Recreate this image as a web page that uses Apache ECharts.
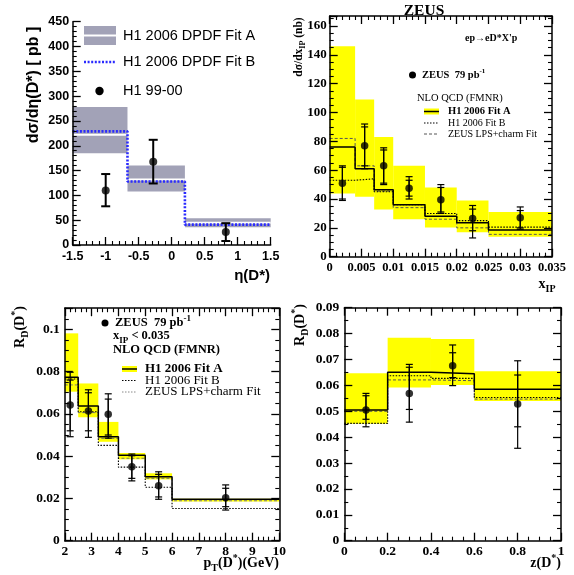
<!DOCTYPE html>
<html><head><meta charset="utf-8">
<script src="https://cdn.jsdelivr.net/npm/echarts@6/dist/echarts.min.js"></script>
<style>html,body{margin:0;padding:0;background:#fff}#c{width:574px;height:575px}</style>
</head><body><div id="c"></div>
<script>
// ---------- Panel 1: H1 dsigma/deta ----------
const etaEdges = [-1.5, -0.67, 0.2, 1.5];
const etaFitALo = [185, 108, 36];
const etaFitAHi = [278, 160, 54];
const etaFitAMid = [222, 132, 45];
const etaFitB = [229, 128, 41];
const etaX = [-1.0, -0.28, 0.82];
const etaY = [110, 168, 26];
const etaErrLo = [78, 124, 8];
const etaErrHi = [143, 212, 44];

// ---------- Panel 2: ZEUS dsigma/dxIP ----------
const xpEdges = [0, 0.004, 0.007, 0.01, 0.015, 0.02, 0.025, 0.035];
const xpBandLo = [43.9, 41.6, 32.8, 25.9, 20.3, 16.9, 13.9];
const xpBandHi = [146, 109, 83, 63, 48, 39, 31];
const xpFitA = [76, 61, 46.5, 36, 28, 23.5, 18.5];
const xpFitB = [53, 54, 45, 36, 30, 25, 20.5];
const xpZeus = [82, 63, 45.5, 34, 26, 20, 15.5];
const xpX = [0.002, 0.0055, 0.0085, 0.0125, 0.0175, 0.0225, 0.03];
const xpY = [51, 77, 63, 47.5, 39.5, 26.5, 27];
const xpStatLo = [40, 63, 51, 42, 31, 18, 20];
const xpStatHi = [62, 90, 74, 53, 48, 33, 32];
const xpTotLo = [39, 61, 50, 40, 30, 13, 19];
const xpTotHi = [63, 92, 75.5, 55.5, 50, 35.5, 34.5];

// ---------- Panel 3: R_D vs pT ----------
const ptEdges = [2, 2.5, 3.25, 4, 5, 6, 10];
const ptBandLo = [0.0705, 0.0584, 0.0468, 0.0385, 0.029, 0.0186];
const ptBandHi = [0.0981, 0.0744, 0.0562, 0.0415, 0.0319, 0.0198];
const ptFitA = [0.0773, 0.0637, 0.0492, 0.0404, 0.0303, 0.0196];
const ptFitB = [0.0765, 0.061, 0.0451, 0.0348, 0.0253, 0.0152];
const ptZeus = [0.0737, 0.0606, 0.0484, 0.039, 0.0295, 0.0189];
const ptX = [2.2, 2.88, 3.62, 4.5, 5.5, 8];
const ptY = [0.0642, 0.0614, 0.0598, 0.035, 0.026, 0.0203];
const ptStatLo = [0.052, 0.052, 0.050, 0.0295, 0.0207, 0.0161];
const ptStatHi = [0.076, 0.070, 0.067, 0.0402, 0.0314, 0.0248];
const ptTotLo = [0.0492, 0.0489, 0.0485, 0.0283, 0.0196, 0.0145];
const ptTotHi = [0.0797, 0.0714, 0.0695, 0.041, 0.0326, 0.0264];

// ---------- Panel 4: R_D vs z ----------
const zEdges = [0, 0.2, 0.4, 0.6, 1.0];
const zBandLo = [0.0452, 0.0592, 0.0601, 0.0540];
const zBandHi = [0.0647, 0.0784, 0.0779, 0.0655];
const zFitA = [0.0505, 0.0651, 0.0645, 0.0585];
const zFitB = [0.0453, 0.0637, 0.0627, 0.0553];
const zZeus = [0.0500, 0.0621, 0.0618, 0.0547];
const zX = [0.1, 0.3, 0.5, 0.8];
const zY = [0.0505, 0.0569, 0.0676, 0.0528];
const zStatLo = [0.0469, 0.0507, 0.0630, 0.0440];
const zStatHi = [0.0560, 0.0670, 0.0726, 0.0640];
const zTotLo = [0.0440, 0.0458, 0.0599, 0.0357];
const zTotHi = [0.0569, 0.0681, 0.0756, 0.0695];

const serif = '"Liberation Serif","Times New Roman",serif';
const sans = '"Liberation Sans",Arial,Helvetica,sans-serif';
const YEL = '#ffff00';
const GRAY = '#a2a2b7';

function steps(edges, vals) {
  const d = vals.map((v, i) => [edges[i], v]);
  d.push([edges[edges.length - 1], vals[vals.length - 1]]);
  return d;
}
function bins(edges, lo, hi, mid) {
  return lo.map((l, i) => mid ? [edges[i], edges[i + 1], l, hi[i], mid[i]] : [edges[i], edges[i + 1], l, hi[i]]);
}
function pts(x, y) { return x.map((v, i) => [v, y[i]]); }
function errs(x, lo, hi) { return x.map((v, i) => [v, lo[i], hi[i]]); }

function bandSeries(ai, data, color, midColor) {
  return {
    type: 'custom', xAxisIndex: ai[0], yAxisIndex: ai[1], data: data, silent: true, z: 1,
    encode: { x: [0, 1], y: [2, 3] },
    renderItem(params, api) {
      const x0 = api.value(0), x1 = api.value(1), lo = api.value(2), hi = api.value(3);
      const a = api.coord([x0, hi]), b = api.coord([x1, lo]);
      const ch = [{ type: 'rect', shape: { x: a[0], y: a[1], width: b[0] - a[0], height: b[1] - a[1] }, style: { fill: color } }];
      if (midColor) {
        const m = api.coord([x0, api.value(4)]);
        ch.push({ type: 'line', shape: { x1: a[0], y1: m[1], x2: b[0], y2: m[1] }, style: { stroke: midColor, lineWidth: 2 } });
      }
      return { type: 'group', children: ch };
    }
  };
}
function stepSeries(ai, data, color, width, type, z) {
  return {
    type: 'line', xAxisIndex: ai[0], yAxisIndex: ai[1], data: data, step: 'end', symbol: 'none',
    silent: true, z: z || 3, lineStyle: { color: color, width: width, type: type || 'solid' }
  };
}
function errSeries(ai, data, cap, width) {
  return {
    type: 'custom', xAxisIndex: ai[0], yAxisIndex: ai[1], data: data, silent: true, z: 4,
    encode: { x: 0, y: [1, 2] },
    renderItem(params, api) {
      const x = api.value(0);
      const a = api.coord([x, api.value(2)]), b = api.coord([x, api.value(1)]);
      const st = { stroke: '#000', lineWidth: width };
      return {
        type: 'group', children: [
          { type: 'line', shape: { x1: a[0], y1: a[1], x2: b[0], y2: b[1] }, style: st },
          { type: 'line', shape: { x1: a[0] - cap, y1: a[1], x2: a[0] + cap, y2: a[1] }, style: st },
          { type: 'line', shape: { x1: b[0] - cap, y1: b[1], x2: b[0] + cap, y2: b[1] }, style: st }
        ]
      };
    }
  };
}
function dotSeries(ai, data, size) {
  return { type: 'scatter', xAxisIndex: ai[0], yAxisIndex: ai[1], data: data, symbolSize: size, silent: true, z: 5, itemStyle: { color: '#000' } };
}

function axis(grid, pos, min, max, interval, minorSplit, labels, font, fsize, margin, extra) {
  const ax = {
    type: 'value', gridIndex: grid, position: pos, min: min, max: max, interval: interval, z: 8,
    splitLine: { show: false },
    axisLine: { show: true, onZero: false, lineStyle: { color: '#000', width: 1.5 } },
    axisTick: { show: true, inside: true, length: 8, lineStyle: { color: '#000', width: 1.3 } },
    minorTick: { show: true, splitNumber: minorSplit, length: 4, lineStyle: { color: '#000', width: 1.1 } },
    axisLabel: { show: labels, inside: false, color: '#000', fontFamily: font, fontWeight: 'bold', fontSize: fsize, margin: margin }
  };
  if (extra) Object.assign(ax.axisLabel, extra);
  return ax;
}

function rich(f, fam, w) {
  return {
    a: { fontSize: f, lineHeight: Math.round(f * 1.4), fontFamily: fam, fontWeight: w, color: '#000' },
    s: { fontSize: Math.round(f * 0.7), lineHeight: Math.round(f * 0.7), verticalAlign: 'bottom', fontFamily: fam, fontWeight: w, color: '#000' },
    p: { fontSize: Math.round(f * 0.7), lineHeight: Math.round(f * 0.7), verticalAlign: 'top', fontFamily: fam, fontWeight: w, color: '#000' }
  };
}
function txt(x, y, text, f, fam, w, align, rot) {
  const el = {
    type: 'text', x: x, y: y, silent: true, z: 100,
    style: { text: text, rich: rich(f, fam, w), fontSize: f, fontFamily: fam, fontWeight: w, fill: '#000', align: align || 'left', verticalAlign: 'middle' }
  };
  if (rot) el.rotation = rot;
  return el;
}
function hline(x1, x2, y, color, width, dash) {
  return { type: 'line', z: 100, silent: true, shape: { x1: x1, y1: y, x2: x2, y2: y }, style: { stroke: color, lineWidth: width, lineDash: dash || null } };
}
function box(x, y, w, h, color) {
  return { type: 'rect', z: 99, silent: true, shape: { x: x, y: y, width: w, height: h }, style: { fill: color } };
}
function dot(x, y, r) {
  return { type: 'circle', z: 100, silent: true, shape: { cx: x, cy: y, r: r }, style: { fill: '#000' } };
}

const grids = [
  { left: 72.7, top: 21.7, width: 198, height: 223.3 },
  { left: 329.7, top: 16, width: 222.3, height: 240.7 },
  { left: 64.8, top: 308.2, width: 214.5, height: 232.5 },
  { left: 344.3, top: 307.7, width: 216.7, height: 233 }
];

const xAxes = [
  axis(0, 'bottom', -1.5, 1.5, 0.5, 5, true, sans, 12.5, 5),
  axis(1, 'bottom', 0, 0.035, 0.005, 5, true, serif, 12.5, 5),
  axis(1, 'top', 0, 0.035, 0.005, 5, false, serif, 12, 4),
  axis(2, 'bottom', 2, 10, 1, 5, true, serif, 13.5, 4),
  axis(2, 'top', 2, 10, 1, 5, false, serif, 12, 4),
  axis(3, 'bottom', 0, 1, 0.2, 4, true, serif, 13.5, 4),
  axis(3, 'top', 0, 1, 0.2, 4, false, serif, 12, 4)
];
const yAxes = [
  axis(0, 'left', 0, 450, 50, 5, true, sans, 12.5, 3.5),
  axis(1, 'left', 0, 166.9, 20, 4, true, serif, 13, 3, { showMaxLabel: false }),
  axis(1, 'right', 0, 166.9, 20, 4, false, serif, 12, 4),
  axis(2, 'left', 0, 0.11, 0.02, 4, true, serif, 13.5, 5, { showMaxLabel: false }),
  axis(2, 'right', 0, 0.11, 0.02, 4, false, serif, 12, 4),
  axis(3, 'left', 0, 0.09, 0.01, 2, true, serif, 13.5, 5),
  axis(3, 'right', 0, 0.09, 0.01, 2, false, serif, 12, 4)
];

const P1 = [0, 0], P2 = [1, 1], P3 = [3, 3], P4 = [5, 5];
const series = [
  // panel 1
  bandSeries(P1, bins(etaEdges, etaFitALo, etaFitAHi, etaFitAMid), GRAY, '#ffffff'),
  stepSeries(P1, steps(etaEdges, etaFitB), '#2a2aff', 2.6, [2, 1.6]),
  errSeries(P1, errs(etaX, etaErrLo, etaErrHi), 4.5, 2),
  dotSeries(P1, pts(etaX, etaY), 8),
  // panel 2
  bandSeries(P2, bins(xpEdges, xpBandLo, xpBandHi), YEL),
  stepSeries(P2, steps(xpEdges, xpZeus), '#555', 1, [3, 2]),
  stepSeries(P2, steps(xpEdges, xpFitB), '#000', 1.1, [1.5, 1.5]),
  stepSeries(P2, steps(xpEdges, xpFitA), '#000', 1.5, 'solid'),
  errSeries(P2, errs(xpX, xpTotLo, xpTotHi), 3.5, 1.2),
  errSeries(P2, errs(xpX, xpStatLo, xpStatHi), 3.5, 1.2),
  dotSeries(P2, pts(xpX, xpY), 7.5),
  // panel 3
  bandSeries(P3, bins(ptEdges, ptBandLo, ptBandHi), YEL),
  stepSeries(P3, steps(ptEdges, ptZeus), '#777', 1, [3, 2]),
  stepSeries(P3, steps(ptEdges, ptFitB), '#000', 1.1, [1.5, 1.5]),
  stepSeries(P3, steps(ptEdges, ptFitA), '#000', 1.5, 'solid'),
  errSeries(P3, errs(ptX, ptTotLo, ptTotHi), 3.5, 1.2),
  errSeries(P3, errs(ptX, ptStatLo, ptStatHi), 3.5, 1.2),
  dotSeries(P3, pts(ptX, ptY), 7.5),
  // panel 4
  bandSeries(P4, bins(zEdges, zBandLo, zBandHi), YEL),
  stepSeries(P4, steps(zEdges, zZeus), '#555', 1, [3, 2]),
  stepSeries(P4, steps(zEdges, zFitB), '#000', 1.1, [1.5, 1.5]),
  stepSeries(P4, steps(zEdges, zFitA), '#000', 1.5, 'solid'),
  errSeries(P4, errs(zX, zTotLo, zTotHi), 3.5, 1.2),
  errSeries(P4, errs(zX, zStatLo, zStatHi), 3.5, 1.2),
  dotSeries(P4, pts(zX, zY), 7.5)
];

const R90 = Math.PI / 2;
const graphics = [
  // panel 1 titles + legend
  txt(34, 85, '{a|dσ/dη(D*) [ pb ]}', 16, sans, 'bold', 'center', R90),
  txt(270, 276, '{a|η(D*)}', 15, sans, 'bold', 'right'),
  box(84, 26, 32, 19, GRAY),
  hline(84, 116, 35.5, '#fff', 2),
  txt(123, 35.5, '{a|H1 2006 DPDF Fit A}', 14.5, sans, 'normal'),
  hline(84, 116, 62, '#2a2aff', 2.6, [2, 1.6]),
  txt(123, 62, '{a|H1 2006 DPDF Fit B}', 14.5, sans, 'normal'),
  dot(99.5, 91, 4.2),
  txt(123, 91, '{a|H1 99-00}', 14.5, sans, 'normal'),
  // panel 2
  txt(424, 11, '{a|ZEUS}', 15.5, serif, 'bold', 'center'),
  txt(465, 38, '{a|ep→eD*X\'p}', 10, serif, 'bold', 'left'),
  txt(299, 47, '{a|dσ/dx}{s|IP}{a| (nb)}', 11.5, serif, 'bold', 'center', R90),
  txt(547, 284, '{a|x}{s|IP}', 14, serif, 'bold', 'center'),
  dot(412.5, 75, 3.5),
  txt(422, 75, '{a|ZEUS  79 pb}{p|-1}', 10.5, serif, 'bold'),
  txt(417, 98, '{a|NLO QCD (FMNR)}', 10.5, serif, 'normal'),
  box(424, 108.5, 15, 6, YEL),
  hline(424, 439, 111.5, '#000', 1.5),
  txt(448, 111.5, '{a|H1 2006 Fit A}', 10.5, serif, 'bold'),
  hline(424, 439, 123, '#000', 1.1, [1.5, 1.5]),
  txt(448, 123, '{a|H1 2006 Fit B}', 10, serif, 'normal'),
  hline(424, 439, 134, '#555', 1, [3, 2]),
  txt(448, 134, '{a|ZEUS LPS+charm Fit}', 10, serif, 'normal'),
  // panel 3
  txt(20, 327, '{a|R}{s|D}{a|(D}{p|*}{a|)}', 14, serif, 'bold', 'center', R90),
  txt(279, 563, '{a|p}{s|T}{a|(D}{p|*}{a|)(GeV)}', 14, serif, 'bold', 'right'),
  dot(105, 323, 3.5),
  txt(115, 323, '{a|ZEUS  79 pb}{p|-1}', 12.5, serif, 'bold'),
  txt(113, 336, '{a|x}{s|IP}{a| < 0.035}', 12.5, serif, 'bold'),
  txt(113, 350, '{a|NLO QCD (FMNR)}', 12.5, serif, 'bold'),
  box(122, 366, 15, 6, YEL),
  hline(122, 137, 369, '#000', 1.5),
  txt(145, 369, '{a|H1 2006 Fit A}', 13, serif, 'bold'),
  hline(122, 137, 380.5, '#000', 1.1, [1.5, 1.5]),
  txt(145, 380.5, '{a|H1 2006 Fit B}', 13, serif, 'normal'),
  hline(122, 137, 392, '#888', 1, [1.5, 1.5]),
  txt(145, 392, '{a|ZEUS LPS+charm Fit}', 13, serif, 'normal'),
  // panel 4
  txt(300, 325, '{a|R}{s|D}{a|(D}{p|*}{a|)}', 14, serif, 'bold', 'center', R90),
  txt(561, 563, '{a|z(D}{p|*}{a|)}', 14, serif, 'bold', 'right')
];

const chart = echarts.init(document.getElementById('c'), null, { renderer: 'canvas' });
chart.setOption({
  animation: false,
  backgroundColor: '#fff',
  grid: grids,
  xAxis: xAxes,
  yAxis: yAxes,
  series: series,
  graphic: graphics
});
</script>
</body></html>
